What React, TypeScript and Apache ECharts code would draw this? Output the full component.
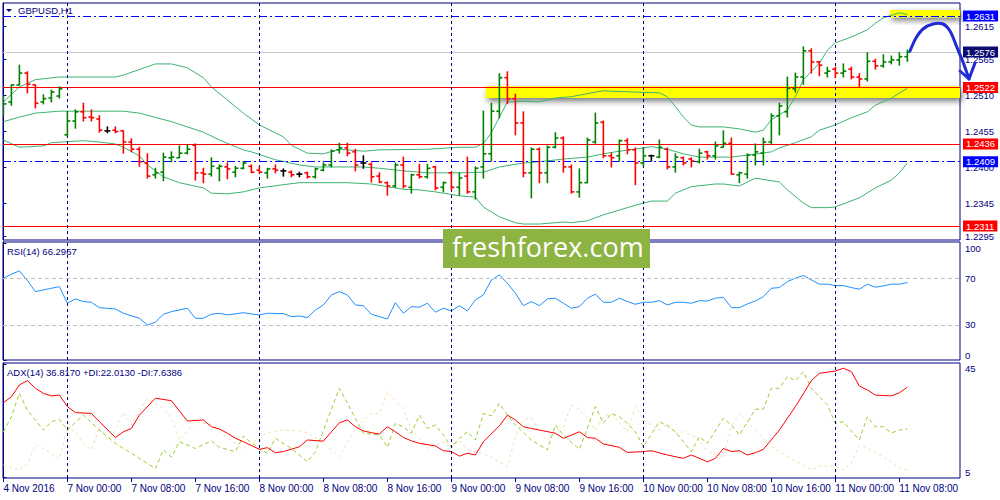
import React, { useEffect, useRef } from "react";
import * as echarts from "echarts";

const FONT = "Liberation Sans, Arial, sans-serif";
const NAVY = "#000080";

const xTickBars = [0, 8, 16, 24, 32, 40, 48, 56, 64, 72, 80, 88, 96, 104, 112];
const xTickLabels = ["4 Nov 2016", "7 Nov 00:00", "7 Nov 08:00", "7 Nov 16:00", "8 Nov 00:00", "8 Nov 08:00", "8 Nov 16:00", "9 Nov 00:00", "9 Nov 08:00", "9 Nov 16:00", "10 Nov 00:00", "10 Nov 08:00", "10 Nov 16:00", "11 Nov 00:00", "11 Nov 08:00"];
const daySeparatorBars = [8, 32, 56, 80, 104];
const priceTicks = [1.2615, 1.2565, 1.251, 1.2455, 1.24, 1.2345, 1.2295];
const rsiTicks = [0, 30, 70, 100];
const rsiLevels = [30, 70];
const adxTicks = [5, 45];

const opens = [1.2485, 1.25, 1.2526, 1.2544, 1.2526, 1.25, 1.2506, 1.2509, 1.245, 1.2471, 1.2485, 1.2477, 1.2474, 1.2456, 1.2457, 1.2456, 1.2439, 1.2428, 1.2407, 1.2389, 1.2393, 1.2415, 1.2415, 1.2422, 1.2434, 1.2392, 1.239, 1.2399, 1.2401, 1.2393, 1.2399, 1.2402, 1.2396, 1.2392, 1.2398, 1.2395, 1.2393, 1.239, 1.2392, 1.2386, 1.2396, 1.2404, 1.2427, 1.243, 1.2424, 1.2407, 1.2405, 1.2387, 1.2377, 1.2372, 1.2404, 1.237, 1.2389, 1.2386, 1.2401, 1.237, 1.2392, 1.237, 1.2387, 1.2363, 1.2401, 1.2421, 1.2486, 1.2537, 1.2505, 1.2468, 1.2392, 1.2428, 1.2392, 1.2431, 1.2445, 1.2401, 1.2363, 1.2377, 1.2439, 1.2469, 1.2418, 1.2418, 1.2441, 1.2427, 1.2407, 1.2418, 1.2416, 1.2428, 1.2401, 1.2415, 1.2413, 1.2409, 1.2424, 1.2418, 1.2431, 1.2437, 1.2389, 1.239, 1.2419, 1.2422, 1.2439, 1.2479, 1.2485, 1.252, 1.2538, 1.2578, 1.2561, 1.2544, 1.255, 1.2544, 1.255, 1.2538, 1.2535, 1.2562, 1.2555, 1.2561, 1.2564, 1.2569];
const highs = [1.2509, 1.2526, 1.2556, 1.2546, 1.2526, 1.2511, 1.2518, 1.2523, 1.2485, 1.2488, 1.2498, 1.2488, 1.2479, 1.2462, 1.2462, 1.2456, 1.2444, 1.2431, 1.2421, 1.2399, 1.2422, 1.2424, 1.2433, 1.2434, 1.2436, 1.2399, 1.2415, 1.2404, 1.2407, 1.2402, 1.2409, 1.2404, 1.2401, 1.2399, 1.2404, 1.2398, 1.2395, 1.2393, 1.2393, 1.2399, 1.2407, 1.2427, 1.2437, 1.2437, 1.2428, 1.2418, 1.2407, 1.2392, 1.2378, 1.2407, 1.2416, 1.239, 1.2405, 1.2405, 1.2402, 1.2378, 1.2393, 1.2392, 1.2416, 1.2401, 1.2486, 1.2498, 1.2543, 1.2546, 1.2512, 1.2485, 1.243, 1.243, 1.2433, 1.2453, 1.2447, 1.2404, 1.2398, 1.2445, 1.2483, 1.2471, 1.2422, 1.2442, 1.2444, 1.243, 1.243, 1.2419, 1.2442, 1.243, 1.2421, 1.2416, 1.2415, 1.2428, 1.2425, 1.2439, 1.2456, 1.2445, 1.2393, 1.2421, 1.2436, 1.2445, 1.2482, 1.2498, 1.2538, 1.2544, 1.2584, 1.2581, 1.2562, 1.2553, 1.2553, 1.2558, 1.2553, 1.2543, 1.2575, 1.2565, 1.2572, 1.257, 1.2575, 1.2579];
const lows = [1.248, 1.2495, 1.2526, 1.2514, 1.2491, 1.2497, 1.25, 1.2506, 1.2448, 1.246, 1.2471, 1.2471, 1.2454, 1.2453, 1.2453, 1.2422, 1.2424, 1.2402, 1.2384, 1.2384, 1.238, 1.2409, 1.2415, 1.2421, 1.2381, 1.2377, 1.2387, 1.238, 1.2383, 1.2386, 1.2398, 1.2392, 1.2392, 1.2384, 1.2392, 1.2387, 1.2386, 1.2386, 1.2384, 1.2384, 1.2395, 1.2401, 1.2422, 1.2418, 1.2395, 1.2399, 1.2378, 1.2377, 1.2358, 1.237, 1.2369, 1.2361, 1.2384, 1.2384, 1.2366, 1.2363, 1.2366, 1.2358, 1.2361, 1.2352, 1.2384, 1.241, 1.2476, 1.2498, 1.245, 1.2386, 1.2354, 1.2377, 1.2377, 1.243, 1.2393, 1.2361, 1.2355, 1.2377, 1.2437, 1.2415, 1.2401, 1.241, 1.2421, 1.2374, 1.2402, 1.241, 1.2415, 1.2398, 1.2393, 1.2404, 1.2401, 1.2407, 1.2413, 1.2413, 1.2431, 1.239, 1.2377, 1.2384, 1.2404, 1.2404, 1.2436, 1.245, 1.2477, 1.2515, 1.2527, 1.2544, 1.254, 1.2538, 1.2537, 1.2538, 1.2535, 1.2523, 1.2532, 1.255, 1.2553, 1.2558, 1.2556, 1.2562];
const closes = [1.2497, 1.2526, 1.2544, 1.2527, 1.2498, 1.2505, 1.2515, 1.252, 1.2471, 1.2485, 1.2476, 1.2476, 1.2457, 1.2456, 1.2455, 1.2439, 1.2428, 1.2409, 1.2387, 1.2392, 1.2416, 1.2416, 1.2422, 1.2428, 1.2392, 1.239, 1.2402, 1.2402, 1.2398, 1.2399, 1.2407, 1.2393, 1.2393, 1.2398, 1.2396, 1.2395, 1.2389, 1.239, 1.2386, 1.2398, 1.2404, 1.2425, 1.243, 1.2422, 1.2404, 1.2407, 1.2386, 1.2378, 1.2372, 1.2404, 1.2372, 1.2389, 1.2386, 1.2399, 1.2369, 1.2377, 1.237, 1.2384, 1.2363, 1.2399, 1.2421, 1.2486, 1.2537, 1.2505, 1.2468, 1.2392, 1.2428, 1.2392, 1.2431, 1.2445, 1.2401, 1.2363, 1.2377, 1.2442, 1.2468, 1.2418, 1.2415, 1.2441, 1.2427, 1.2407, 1.2418, 1.2418, 1.2431, 1.2401, 1.2416, 1.2407, 1.241, 1.2422, 1.2418, 1.2433, 1.2437, 1.239, 1.2392, 1.2419, 1.2424, 1.2439, 1.2479, 1.2494, 1.2521, 1.2538, 1.2578, 1.2561, 1.2556, 1.2547, 1.2544, 1.2547, 1.2538, 1.2535, 1.2562, 1.2555, 1.2561, 1.2564, 1.2569, 1.2576];

const bbUpper = [[0, 1.25], [2, 1.2523], [4, 1.2534], [7, 1.2538], [14, 1.2538], [15, 1.2541], [19, 1.2558], [21, 1.2558], [23, 1.2552], [25, 1.2537], [26, 1.2523], [29, 1.2493], [30, 1.2483], [32, 1.2465], [35, 1.2447], [36, 1.2434], [38, 1.2422], [40, 1.2421], [42, 1.2428], [45, 1.2425], [47, 1.2427], [53, 1.2428], [57, 1.2431], [59, 1.2431], [60, 1.2437], [61, 1.2453], [62, 1.2477], [63, 1.25], [65, 1.2501], [67, 1.25], [69, 1.2506], [71, 1.2508], [74, 1.2515], [75, 1.2517], [79, 1.2515], [82, 1.2514], [83, 1.2508], [84, 1.2493], [85, 1.2477], [86, 1.2465], [87, 1.2462], [90, 1.2462], [92, 1.2459], [94, 1.2454], [95, 1.2457], [96, 1.2473], [98, 1.2488], [99, 1.2508], [100, 1.2534], [102, 1.2559], [103, 1.2579], [104, 1.259], [106, 1.2599], [108, 1.261], [109, 1.262], [110, 1.2628], [112, 1.2636], [113, 1.2633]];
const bbMiddle = [[0, 1.247], [2, 1.2477], [4, 1.2483], [7, 1.2486], [15, 1.2486], [17, 1.2483], [21, 1.247], [25, 1.2454], [27, 1.2442], [30, 1.2427], [31, 1.2424], [34, 1.2412], [37, 1.2404], [39, 1.2401], [45, 1.2401], [47, 1.2399], [50, 1.2395], [53, 1.2392], [57, 1.2392], [60, 1.2393], [62, 1.2401], [65, 1.2407], [67, 1.2409], [70, 1.2413], [73, 1.2416], [75, 1.2421], [77, 1.2425], [80, 1.243], [81, 1.2432], [83, 1.2428], [85, 1.2421], [87, 1.2416], [91, 1.2416], [93, 1.2419], [96, 1.2424], [97, 1.243], [99, 1.2438], [101, 1.2447], [102, 1.2457], [104, 1.2465], [106, 1.2476], [108, 1.2485], [109, 1.2495], [111, 1.2506], [113, 1.2521]];
const bbLower = [[0, 1.2442], [2, 1.2431], [5, 1.2433], [6, 1.2438], [10, 1.2441], [12, 1.2439], [14, 1.2436], [15, 1.2431], [17, 1.2418], [18, 1.2404], [20, 1.2386], [22, 1.2377], [25, 1.2369], [26, 1.2361], [28, 1.236], [30, 1.2363], [32, 1.2369], [35, 1.2374], [37, 1.2377], [41, 1.2377], [43, 1.2377], [46, 1.2375], [48, 1.2371], [50, 1.2367], [52, 1.2366], [54, 1.2363], [57, 1.2357], [59, 1.2355], [60, 1.234], [62, 1.2325], [64, 1.2316], [65, 1.2314], [67, 1.2314], [70, 1.2317], [71, 1.2316], [73, 1.2319], [75, 1.2328], [78, 1.2339], [80, 1.2346], [81, 1.2349], [83, 1.2349], [84, 1.2361], [86, 1.2371], [89, 1.2375], [90, 1.2375], [92, 1.2372], [94, 1.2384], [97, 1.2378], [98, 1.2366], [100, 1.2346], [101, 1.2339], [103, 1.2339], [104, 1.234], [107, 1.2354], [109, 1.2369], [111, 1.2381], [112, 1.2392], [113, 1.2407]];

const rsi14 = [[0, 70], [1, 73.4], [2, 76.3], [3, 68], [4, 58.5], [5, 60], [6, 61.4], [7, 62.8], [8, 48.6], [9, 52.3], [10, 50], [11, 49.4], [12, 44.8], [14, 43.7], [15, 40], [17, 35.7], [18, 30], [19, 32.3], [20, 39.2], [21, 41.4], [23, 44.3], [24, 35.7], [25, 35.7], [26, 39.2], [27, 40], [28, 38.6], [30, 40.5], [31, 39.4], [32, 38.6], [33, 40], [35, 39.7], [36, 37.1], [37, 37.7], [38, 36.3], [39, 42.8], [40, 47.1], [41, 55.7], [42, 58.5], [43, 55.7], [44, 47.1], [45, 46.5], [46, 39.2], [47, 37.1], [48, 35.1], [49, 49.1], [50, 40], [51, 45.7], [52, 45.2], [53, 48.6], [54, 40.9], [55, 44.3], [56, 42], [57, 46.5], [58, 42], [59, 51.4], [60, 55.7], [61, 68.5], [62, 72.8], [63, 65.7], [64, 57.2], [65, 46.5], [66, 50], [67, 46.5], [68, 52.3], [69, 52.9], [70, 48.6], [71, 44.3], [72, 45.7], [73, 52.9], [74, 56.3], [75, 49.4], [76, 49.4], [77, 52.9], [78, 50], [79, 47.7], [80, 49.4], [81, 49.4], [82, 50.8], [83, 47.1], [84, 49.4], [85, 49.4], [86, 48.6], [87, 50.8], [88, 50.5], [89, 52.9], [90, 53.7], [91, 44.8], [92, 44.8], [93, 48], [94, 50.5], [95, 54.2], [96, 61.4], [97, 62], [98, 67.1], [99, 70], [100, 72.3], [101, 68.5], [102, 64.9], [103, 64.9], [104, 63.7], [105, 63.7], [106, 62], [107, 60.6], [108, 64.9], [109, 62.3], [110, 63.4], [111, 64.9], [112, 64.9], [113, 66.3]];

const adx14 = [[0, 31.3], [1, 33.4], [2, 37.6], [3, 39.1], [4, 36.4], [5, 34.6], [6, 33.7], [7, 34], [8, 29.9], [9, 27.8], [11, 27.5], [12, 24.6], [14, 19], [15, 21], [16, 22.2], [17, 26.9], [19, 32.9], [21, 32], [23, 24.8], [25, 25.2], [26, 22.8], [27, 22], [28, 20.5], [29, 18.7], [30, 17.5], [32, 14.8], [33, 15.4], [34, 13.6], [35, 14], [37, 15.7], [38, 18.1], [40, 17.7], [41, 21], [42, 24.2], [43, 25.2], [44, 22.8], [45, 21.3], [46, 20.7], [47, 20.2], [48, 22.8], [49, 21], [50, 19], [51, 17.8], [52, 16.9], [54, 16], [55, 14.3], [56, 14], [57, 12.4], [58, 13.4], [59, 12.8], [60, 17.5], [62, 23.1], [63, 26.9], [64, 25.2], [65, 22.8], [66, 22.2], [67, 21.6], [69, 20.5], [70, 18.7], [72, 21], [73, 19], [74, 18.7], [75, 16.7], [77, 15.5], [78, 13.7], [80, 14], [81, 14.3], [83, 12.8], [85, 11.6], [86, 12.8], [88, 10.4], [89, 11.6], [90, 15.1], [91, 14], [92, 14.3], [93, 12.8], [94, 13.6], [95, 14.8], [97, 21.6], [99, 29.9], [101, 39.1], [102, 41.7], [104, 42.5], [105, 43.5], [106, 42.3], [107, 37.2], [108, 35.8], [109, 34], [111, 33.7], [112, 34.8], [113, 36.8]];
const plusDI = [[0, 21], [1, 26.3], [2, 34.6], [3, 28.7], [5, 21.6], [6, 24.6], [7, 25.4], [8, 21.6], [10, 26.9], [12, 21.6], [14, 16.9], [17, 11.6], [19, 8], [20, 14.6], [21, 12], [22, 17.5], [24, 15.1], [26, 17.8], [27, 15.5], [29, 14], [30, 19.5], [32, 14.8], [33, 13.4], [34, 18.7], [36, 15.1], [38, 10.4], [39, 14], [42, 36.4], [44, 25.8], [45, 20.5], [47, 19.9], [48, 15.5], [49, 24], [50, 22.8], [51, 20.5], [52, 26.9], [53, 22.2], [54, 23.4], [55, 19.9], [56, 15.5], [57, 18.7], [58, 21], [59, 18.1], [60, 27.5], [61, 26.6], [62, 31.1], [63, 26.9], [64, 23.4], [66, 18.1], [68, 14.6], [69, 23.4], [70, 19.9], [72, 14.8], [74, 29.9], [75, 24], [76, 27.5], [77, 26.3], [78, 24], [79, 21], [80, 15.7], [82, 24.6], [83, 23.1], [84, 21], [86, 14], [87, 19.3], [88, 16.9], [90, 25.8], [91, 23.4], [92, 19.9], [94, 29], [95, 29], [96, 36.4], [97, 36.4], [98, 40.5], [99, 39.1], [100, 42.3], [101, 36.4], [103, 30.5], [104, 24], [105, 24.6], [107, 18.1], [108, 26.3], [109, 22.8], [110, 22.8], [111, 20.6], [112, 21.6], [113, 22]];
const minusDI = [[0, 9.2], [1, 8.4], [2, 7.5], [3, 9.6], [4, 16.3], [5, 15.1], [6, 13.4], [7, 11.2], [8, 22.8], [9, 21], [10, 16.9], [11, 14.6], [12, 22.8], [13, 18.1], [14, 21.6], [15, 27.8], [16, 23.4], [18, 32.9], [20, 29.3], [21, 25.8], [22, 18.1], [24, 24.6], [26, 23.4], [28, 18.7], [30, 15.1], [33, 20.7], [35, 21.6], [37, 21.4], [38, 20.7], [40, 16.9], [41, 14.6], [42, 12.2], [44, 22.2], [46, 27.5], [47, 27.5], [48, 35.2], [50, 29.3], [51, 21.6], [52, 18.7], [53, 15.1], [55, 17.5], [56, 15.1], [57, 18.1], [58, 14.6], [60, 13.4], [62, 10.4], [63, 8.6], [64, 19.3], [65, 25.2], [66, 26.1], [67, 21], [68, 18.1], [70, 22.8], [71, 30.5], [72, 29], [73, 25.8], [74, 21.6], [75, 26.3], [76, 27.5], [78, 21], [79, 29.9], [80, 25.2], [82, 21.6], [83, 24], [84, 20.5], [85, 21], [86, 19.9], [87, 18.1], [88, 14], [90, 12.2], [91, 22.8], [92, 27.5], [93, 24.6], [95, 18.7], [96, 15.7], [98, 12.2], [100, 9.2], [101, 7.5], [102, 8.9], [104, 8.9], [105, 7.5], [106, 9.9], [107, 16.3], [108, 15.1], [110, 12.2], [111, 10.4], [112, 8], [113, 7.6]];

const levelPrices = [1.2631, 1.2576, 1.2522, 1.2436, 1.2409, 1.2311];
const levelKinds = ["dashdot", "bid", "red", "red", "dashdot", "red"];
const zoneStartBars = [60.3, 110.8];
const zoneTops = [1.2524, 1.264];
const zoneBottoms = [1.2506, 1.2629];

const PRICE_MAX = 1.265081;
const PRICE_MIN = 1.228967;
const X_MIN = -0.05;
const X_MAX = 119.58;

const kindStyle: any = {
  dashdot: { line: { color: "#0000ff", type: [8, 3, 2, 3], width: 1 }, bg: "#0000ff" },
  bid: { line: { color: "#c8c8c8", type: "solid", width: 1 }, bg: "#0a0a70" },
  red: { line: { color: "#ff0000", type: "solid", width: 1 }, bg: "#ff0000" },
};

export default function App() {
  const ref = useRef<HTMLDivElement>(null);
  useEffect(() => {
    const chart = echarts.init(ref.current as HTMLDivElement, null, { renderer: "svg" });
    const ohlc = opens.map((o, i) => [i, o, highs[i], lows[i], closes[i]]);

    const hiddenX = (gi: number) => ({
      type: "value", gridIndex: gi, min: X_MIN, max: X_MAX,
      axisLine: { show: false }, axisTick: { show: false }, axisLabel: { show: false }, splitLine: { show: false },
    });
    const sepMarkLine = {
      silent: true, symbol: ["none", "none"], label: { show: false }, emphasis: { disabled: true }, precision: 4,
      lineStyle: { color: NAVY, type: [3, 3], width: 1 },
      data: daySeparatorBars.map((b) => ({ xAxis: b })),
    };
    const axisText = { color: NAVY, fontSize: 9.5, fontFamily: FONT };
    const grids = [
      { left: 3, right: 40, top: 3, height: 237 },
      { left: 3, right: 40, top: 242, height: 118 },
      { left: 3, right: 40, top: 363, height: 115 },
    ].map((g) => ({ ...g, show: true, borderColor: NAVY, borderWidth: 1, backgroundColor: "#ffffff", containLabel: false, outerBoundsMode: "none" }));

    const bandStyle = { color: "#3cb371", width: 1 };
    const lineSeries = (name: string, data: any, xi: number, style: any, z = 3) => ({
      name, type: "line", xAxisIndex: xi, yAxisIndex: xi, data, showSymbol: false, symbol: "none",
      lineStyle: style, silent: true, z, clip: true,
    });

    const option: any = {
      animation: false,
      backgroundColor: "#ffffff",
      grid: grids,
      xAxis: [
        hiddenX(0),
        hiddenX(1),
        {
          ...hiddenX(2),
          axisTick: { show: true, customValues: xTickBars, length: 4, lineStyle: { color: NAVY } },
          axisLabel: {
            show: true, customValues: xTickBars, align: "left", margin: 5,
            color: NAVY, fontSize: 10, fontFamily: FONT,
            formatter: (v: number) => xTickLabels[xTickBars.indexOf(Math.round(v))] ?? "",
          },
        },
      ],
      yAxis: [
        {
          type: "value", gridIndex: 0, position: "right", min: PRICE_MIN, max: PRICE_MAX, scale: true,
          splitLine: { show: false }, axisLine: { show: true, lineStyle: { color: NAVY } },
          axisTick: { show: true, customValues: priceTicks, length: 3, lineStyle: { color: NAVY } },
          axisLabel: { ...axisText, customValues: priceTicks, margin: 5, formatter: (v: number) => v.toFixed(4) },
        },
        {
          type: "value", gridIndex: 1, position: "right", min: 0, max: 101,
          splitLine: { show: false }, axisLine: { show: true, lineStyle: { color: NAVY } },
          axisTick: { show: true, customValues: rsiTicks, length: 3, lineStyle: { color: NAVY } },
          axisLabel: { ...axisText, customValues: rsiTicks, margin: 5, verticalAlignMinLabel: "bottom", verticalAlignMaxLabel: "top" },
        },
        {
          type: "value", gridIndex: 2, position: "right", min: 4.65, max: 45.35,
          splitLine: { show: false }, axisLine: { show: true, lineStyle: { color: NAVY } },
          axisTick: { show: true, customValues: adxTicks, length: 3, lineStyle: { color: NAVY } },
          axisLabel: { ...axisText, customValues: adxTicks, margin: 5, verticalAlignMinLabel: "bottom", verticalAlignMaxLabel: "top" },
        },
      ],
      series: [
        {
          name: "zones", type: "line", xAxisIndex: 0, yAxisIndex: 0, data: [], z: 1, silent: true, clip: false,
          markArea: {
            silent: true, precision: 4,
            itemStyle: { color: "#ffff00", shadowBlur: 6, shadowColor: "rgba(0,0,0,0.55)", shadowOffsetX: 2, shadowOffsetY: 3 },
            data: zoneStartBars.map((s, i) => [
              { xAxis: s, yAxis: zoneTops[i] },
              { xAxis: X_MAX, yAxis: zoneBottoms[i] },
            ]),
          },
        },
        lineSeries("BB upper", bbUpper, 0, bandStyle),
        lineSeries("BB middle", bbMiddle, 0, bandStyle),
        lineSeries("BB lower", bbLower, 0, bandStyle),
        {
          name: "levels", type: "line", xAxisIndex: 0, yAxisIndex: 0, data: [], z: 4, silent: true, clip: false,
          markLine: {
            silent: true, symbol: ["none", "none"], emphasis: { disabled: true }, precision: 4,
            data: levelPrices.map((p, i) => ({
              yAxis: p,
              lineStyle: kindStyle[levelKinds[i]].line,
              label: {
                show: true, position: "end", distance: 3, formatter: p.toFixed(4),
                backgroundColor: kindStyle[levelKinds[i]].bg, color: "#ffffff",
                padding: [1, 3, 0, 3], fontSize: 9.5, fontFamily: FONT, lineHeight: 10,
              },
            })),
          },
        },
        {
          name: "GBPUSD", type: "custom", xAxisIndex: 0, yAxisIndex: 0, data: ohlc, z: 5, clip: true, silent: true,
          encode: { x: 0, y: [1, 2, 3, 4] },
          renderItem: (_p: any, api: any) => {
            const i = api.value(0);
            const o = api.value(1), h = api.value(2), l = api.value(3), c = api.value(4);
            const pH = api.coord([i, h]);
            const pL = api.coord([i, l]);
            const pO = api.coord([i, o]);
            const pC = api.coord([i, c]);
            const x = pH[0];
            const color = c > o ? "#008000" : c < o ? "#ff0000" : "#000000";
            const style = { stroke: color, lineWidth: 1.6 };
            return {
              type: "group",
              children: [
                { type: "line", shape: { x1: x, y1: pH[1] - 0.5, x2: x, y2: pL[1] + 0.5 }, style },
                { type: "line", shape: { x1: x - 3, y1: pO[1], x2: x, y2: pO[1] }, style },
                { type: "line", shape: { x1: x, y1: pC[1], x2: x + 3, y2: pC[1] }, style },
              ],
            };
          },
          markLine: sepMarkLine,
        },
        {
          ...lineSeries("RSI(14)", rsi14, 1, { color: "#1e90ff", width: 1 }),
          markLine: {
            ...sepMarkLine,
            data: [
              ...daySeparatorBars.map((b) => ({ xAxis: b })),
              ...rsiLevels.map((v) => ({ yAxis: v, lineStyle: { color: "#c0c0c0", type: [4, 3], width: 1 } })),
            ],
          },
        },
        lineSeries("-DI", minusDI, 2, { color: "#f5deb3", width: 1, type: [3, 3] }),
        lineSeries("+DI", plusDI, 2, { color: "#9acd32", width: 1, type: [4, 3] }),
        { ...lineSeries("ADX(14)", adx14, 2, { color: "#ff0000", width: 1 }, 4), markLine: sepMarkLine },
      ],
      graphic: [
        { type: "polygon", shape: { points: [[6, 9], [12, 9], [9, 12]] }, style: { fill: NAVY }, z: 50 },
        { type: "text", x: 18, y: 5, style: { text: "GBPUSD,H1", fill: NAVY, font: `9.5px ${FONT}` }, z: 50 },
        { type: "text", x: 7, y: 246, style: { text: "RSI(14) 66.2967", fill: NAVY, font: `9.5px ${FONT}` }, z: 50 },
        { type: "text", x: 7, y: 367, style: { text: "ADX(14) 36.8170 +DI:22.0130 -DI:7.6386", fill: NAVY, font: `9.5px ${FONT}` }, z: 50 },
        { type: "rect", shape: { x: 443, y: 229, width: 207, height: 39 }, style: { fill: "#8db443" }, z: 60 },
        { type: "text", x: 452, y: 233, style: { text: "freshforex.com", fill: "#ffffff", font: `27px "Open Sans", sans-serif` }, z: 61 },
        {
          type: "polyline", z: 70,
          shape: { points: [[910, 51], [916, 38], [923, 29], [933, 24], [943, 24], [950, 31], [956, 45], [963, 62], [969, 79]], smooth: 0.3 },
          style: { stroke: "#1f2bd6", lineWidth: 3, fill: null, lineCap: "round", lineJoin: "round" },
        },
        {
          type: "polyline", z: 70,
          shape: { points: [[960, 71], [969, 79], [975, 63]] },
          style: { stroke: "#1f2bd6", lineWidth: 3, fill: null, lineCap: "round", lineJoin: "round" },
        },
      ],
    };
    chart.setOption(option);
    return () => chart.dispose();
  }, []);
  return <div ref={ref} style={{ position: "fixed", left: 0, top: 0, width: 1000, height: 500, background: "#ffffff" }} />;
}
